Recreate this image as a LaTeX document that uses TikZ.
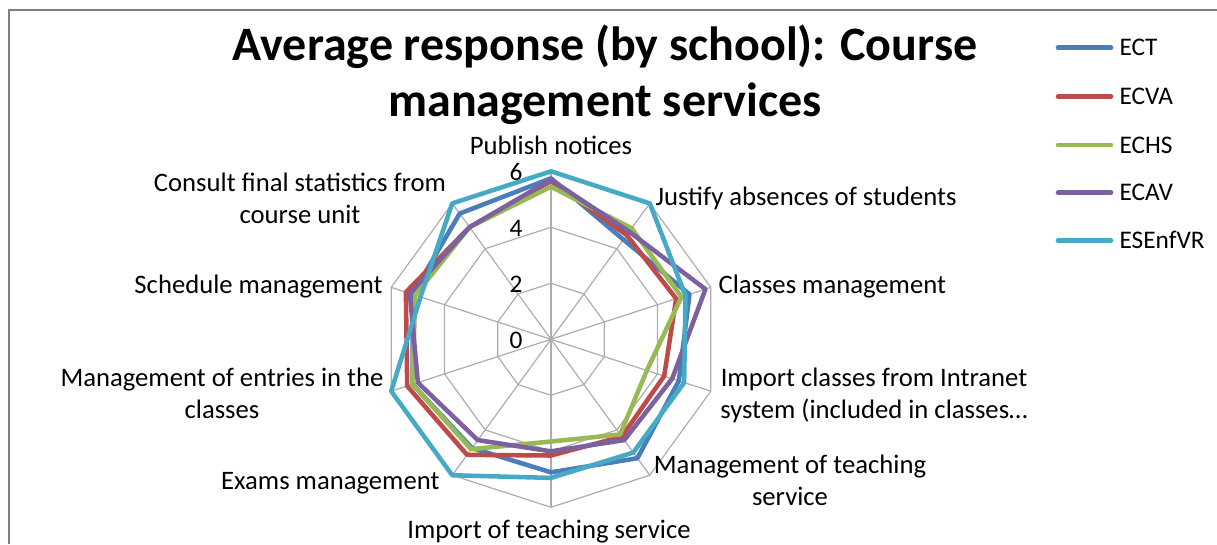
\documentclass[tikz,border=0pt]{standalone}
\usepackage{fontspec}
\setmainfont{Carlito}
\usetikzlibrary{positioning,calc}
\definecolor{ectblue}{HTML}{4A7EBB}
\definecolor{ecvared}{HTML}{BE4B48}
\definecolor{echsgreen}{HTML}{98B954}
\definecolor{ecavpurple}{HTML}{7D60A0}
\definecolor{esecyan}{HTML}{46AAC5}
\tikzset{series/.style={draw, line width=1.7pt, line join=round}}
\tikzset{ect/.style={series, ectblue}}
\tikzset{ecva/.style={series, ecvared}}
\tikzset{echs/.style={series, echsgreen}}
\tikzset{ecav/.style={series, ecavpurple}}
\tikzset{esenfvr/.style={series, esecyan}}
\tikzset{gridline/.style={draw=black!32, line width=0.45pt}}
\tikzset{frame/.style={draw=black!50, line width=0.75pt}}
\tikzset{charttitle/.style={font=\fontsize{18}{21.6}\selectfont\bfseries, inner sep=0pt, anchor=base}}
\tikzset{axlabel/.style={font=\fontsize{10}{12}\selectfont, inner sep=0pt, align=center}}
\tikzset{ticklabel/.style={font=\fontsize{9.5}{11.4}\selectfont, inner sep=0pt, anchor=base east}}
\tikzset{legtext/.style={font=\fontsize{9.5}{11.4}\selectfont, inner sep=0pt, anchor=base west}}
\newcommand\radarline[2]{%
  \foreach \v [count=\k from 0] in {#2}
    \coordinate (#1-\k) at (36*\k-90:28*\v);
  \draw[#1] (#1-0) \foreach \k in {1,...,9}{ -- (#1-\k)} -- cycle;
}

\begin{document}
\begin{tikzpicture}[x=0.375pt, y=-0.375pt]
  \useasboundingbox (0,0) rectangle (1217,544);
  \draw[frame] (8.5,544) -- (8.5,9.5) -- (1217,9.5);

  \node[charttitle] (title1) at (605,60) {Average response (by school): Course};
  \node[charttitle] (title2) at (605,116) {management services};

  \begin{scope}[shift={(551,339.3)}]
    \coordinate (ctr) at (0,0);
    \foreach \r in {2,4,6}
      \draw[gridline] (-90:28*\r) \foreach \k in {1,...,9}{ -- (36*\k-90:28*\r)} -- cycle;
    \foreach \k in {0,...,9}
      \draw[gridline] (ctr) -- (36*\k-90:168);
    \foreach \r in {0,2,4,6}
      \node[ticklabel] (tick\r) at (-28,-28*\r+9.5) {\r};
    % one closed line per school
    \radarline{ect}{5.75,4.4,5.2,4.8,5.25,4.75,4.8,5.2,5.2,5.55}
    \radarline{ecva}{5.65,4.6,4.7,4.25,4.3,4.15,5.1,5.4,5.45,4.95}
    \radarline{echs}{5.45,4.9,4.9,3.6,4.2,3.65,4.85,5.2,5.1,4.95}
    \radarline{ecav}{5.7,4.75,5.8,4.55,4.45,4.0,4.45,5.0,5.3,4.95}
    \radarline{esenfvr}{6.0,6.0,5.05,5.0,5.0,4.95,6.0,6.0,4.9,6.0}
  \end{scope}

  \node[axlabel, anchor=base] (notices) at (551,154) {Publish notices};
  \node[axlabel, anchor=base west] (absences) at (655,205) {Justify absences of students};
  \node[axlabel, anchor=base west] (classes) at (718,293) {Classes management};
  \node[axlabel, anchor=base] (intranet) at (874,418) {Import classes from Intranet\\system (included in classes…};
  \node[axlabel, anchor=base] (teaching) at (790,505) {Management of teaching\\service};
  \node[axlabel, anchor=base] (importteach) at (549,538) {Import of teaching service};
  \node[axlabel, anchor=base east] (exams) at (440,489) {Exams management};
  \node[axlabel, anchor=base] (entries) at (222,418) {Management of entries in the\\classes};
  \node[axlabel, anchor=base east] (schedule) at (383,293) {Schedule management};
  \node[axlabel, anchor=base] (stats) at (300,223) {Consult final statistics from\\course unit};

  % legend
  \foreach \s/\name/\y in {ect/ECT/47.7, ecva/ECVA/96.7, echs/ECHS/145, ecav/ECAV/192.7, esenfvr/ESEnfVR/240.7}{
    \coordinate (key-\s) at (1058,\y);
    \draw[\s, line cap=round] (key-\s) -- ++(53,0);
    \node[legtext] (leg-\s) at (1119,\y+8) {\name};
  }
\end{tikzpicture}
\end{document}
